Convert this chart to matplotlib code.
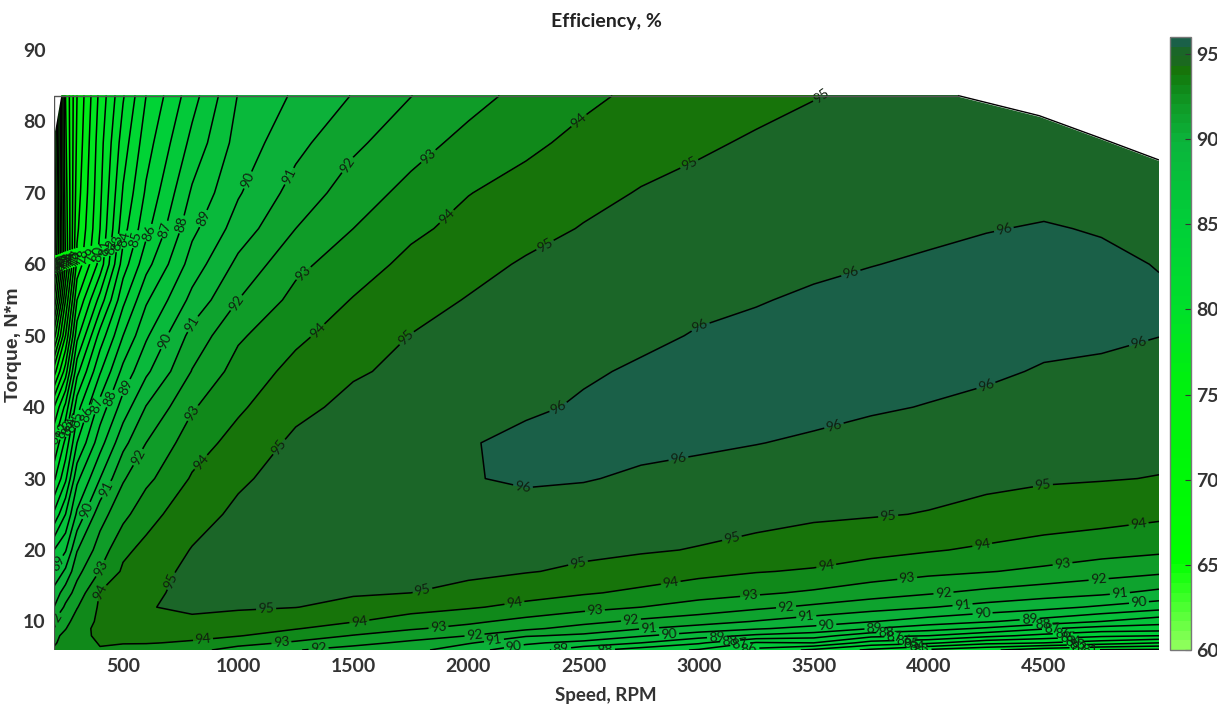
import numpy as np
import matplotlib
matplotlib.use('Agg')
import matplotlib.pyplot as plt
from matplotlib.colors import LinearSegmentedColormap, Normalize
from matplotlib.cm import ScalarMappable

plt.rcParams['font.family'] = ['Lato', 'DejaVu Sans']

speed = [200, 250, 300, 400, 500, 600, 800, 1000, 1250, 1500, 1750, 2000, 2250, 2500, 2750, 3000, 3250, 3500, 3750, 4000, 4250, 4500, 4750, 5000]
torque = [6, 7, 8, 9, 10, 12, 14, 17, 20, 25, 30, 35, 40, 45, 50, 55, 60, 65, 70, 77, 83.6]

# efficiency, one list per speed, same order as torque
eff_200 = [93.1, 92.9, 92.7, 92.4, 92.0, 91.0, 90.4, 89.1, 88.0, 85.2, 82.8, 81.0, 79.0, 75.5, 71.5, 68.0, 65.5, 65.0, 65.0, 64.5, 64.0]
eff_250 = [93.3, 93.3, 93.3, 92.95, 92.7, 92.2, 91.5, 90.2, 88.9, 87.0, 84.8, 83.3, 81.3, 78.5, 76.0, 74.0, 72.0, 72.3, 72.5, 72.8, 73.0]
eff_300 = [93.45, 93.65, 93.75, 93.7, 93.4, 92.95, 92.4, 91.7, 90.95, 89.2, 87.75, 86.0, 84.6, 82.7, 80.7, 79.0, 77.3, 76.8, 76.5, 76.2, 76.0]
eff_400 = [93.95, 94.05, 94.15, 94.2, 94.2, 94.15, 94.05, 93.05, 92.45, 91.6, 90.0, 88.6, 87.4, 85.9, 84.4, 82.4, 80.4, 80.0, 79.8, 79.6, 79.3]
eff_500 = [93.7, 94.05, 94.15, 94.2, 94.3, 94.4, 94.4, 94.15, 93.8, 92.7, 91.9, 90.7, 89.45, 88.3, 87.0, 85.75, 84.5, 83.6, 83.1, 82.5, 81.9]
eff_600 = [93.6, 94.05, 94.3, 94.5, 94.65, 94.97, 94.85, 94.55, 94.25, 93.65, 92.75, 92.0, 91.05, 89.8, 88.85, 87.85, 86.65, 85.7, 85.15, 84.55, 84.0]
eff_800 = [93.3, 93.9, 94.2, 94.6, 94.9, 95.1, 95.2, 95.25, 95.05, 94.6, 94.1, 93.55, 92.9, 92.05, 91.35, 90.3, 89.45, 88.75, 88.15, 87.3, 86.6]
eff_1000 = [92.6, 93.35, 94.05, 94.35, 94.65, 95.1, 95.15, 95.3, 95.35, 95.2, 94.85, 94.35, 93.85, 93.4, 92.85, 92.0, 91.25, 90.45, 89.9, 89.4, 89.05]
eff_1250 = [92.05, 92.85, 93.5, 94.05, 94.3, 95.02, 95.15, 95.3, 95.4, 95.45, 95.4, 95.2, 94.75, 94.3, 93.8, 93.3, 92.75, 92.0, 91.4, 90.7, 90.15]
eff_1500 = [91.6, 92.3, 92.95, 93.55, 94.05, 94.7, 95.1, 95.3, 95.4, 95.5, 95.55, 95.4, 95.25, 94.9, 94.5, 94.05, 93.55, 93.0, 92.5, 91.8, 91.05]
eff_1750 = [91.35, 91.8, 92.45, 93.1, 93.6, 94.35, 95.0, 95.25, 95.45, 95.6, 95.75, 95.65, 95.45, 95.2, 95.02, 94.65, 94.25, 93.8, 93.3, 92.6, 91.98]
eff_2000 = [90.3, 91.1, 92.0, 92.7, 93.2, 94.1, 94.65, 95.25, 95.4, 95.65, 95.95, 95.93, 95.6, 95.45, 95.25, 95.05, 94.7, 94.3, 93.97, 93.3, 92.65]
eff_2250 = [89.5, 90.15, 91.1, 92.2, 92.7, 93.75, 94.35, 95.05, 95.3, 95.65, 96.12, 96.25, 95.85, 95.7, 95.5, 95.3, 95.1, 94.7, 94.35, 93.8, 93.3]
eff_2500 = [88.3, 89.7, 90.8, 91.6, 92.3, 93.3, 94.1, 94.85, 95.18, 95.6, 96.05, 96.3, 96.1, 95.9, 95.65, 95.45, 95.25, 95.05, 94.75, 94.25, 93.8]
eff_2750 = [87.5, 89.0, 90.1, 91.05, 91.8, 93.0, 93.8, 94.55, 95.1, 95.5, 95.88, 96.2, 96.3, 96.1, 95.85, 95.6, 95.4, 95.25, 95.05, 94.65, 94.2]
eff_3000 = [86.9, 88.15, 89.45, 90.55, 91.45, 92.6, 93.4, 94.3, 94.95, 95.38, 95.77, 96.12, 96.3, 96.25, 96.05, 95.85, 95.65, 95.45, 95.2, 94.9, 94.55]
eff_3250 = [85.7, 86.9, 88.8, 90.1, 90.95, 92.2, 93.15, 94.05, 94.75, 95.27, 95.65, 96.02, 96.25, 96.35, 96.2, 95.95, 95.75, 95.55, 95.35, 95.08, 94.8]
eff_3500 = [84.8, 87.0, 88.45, 89.7, 90.5, 91.8, 92.85, 93.9, 94.5, 95.15, 95.5, 95.9, 96.2, 96.3, 96.35, 96.12, 95.85, 95.65, 95.5, 95.25, 94.97]
eff_3750 = [83.8, 85.6, 87.3, 89.0, 90.05, 91.4, 92.45, 93.55, 94.3, 95.07, 95.4, 95.75, 96.08, 96.25, 96.33, 96.25, 95.98, 95.75, 95.6, 95.4, 95.2]
eff_4000 = [82.8, 85.2, 87.0, 88.4, 89.55, 91.05, 92.1, 93.25, 94.08, 94.96, 95.3, 95.65, 95.97, 96.2, 96.3, 96.3, 96.1, 95.85, 95.7, 95.5, 95.35]
eff_4250 = [82.2, 84.3, 86.3, 87.85, 89.1, 90.65, 91.75, 93.05, 93.85, 94.75, 95.2, 95.55, 95.85, 96.1, 96.25, 96.35, 96.2, 95.97, 95.8, 95.6, 95.4]
eff_4500 = [81.4, 84.0, 85.7, 87.1, 88.6, 90.3, 91.45, 92.8, 93.6, 94.55, 95.1, 95.4, 95.65, 95.95, 96.15, 96.25, 96.3, 96.05, 95.8, 95.55, 95.3]
eff_4750 = [80.9, 83.5, 85.2, 86.6, 88.0, 89.85, 91.2, 92.45, 93.4, 94.4, 95.05, 95.3, 95.6, 95.9, 96.1, 96.2, 96.15, 95.95, 95.65, 95.4, 95.0]
eff_5000 = [80.8, 83.0, 85.0, 86.5, 87.4, 89.4, 90.75, 92.2, 93.2, 94.2, 94.97, 95.25, 95.5, 95.75, 96.01, 96.1, 95.97, 95.7, 95.4, 95.1, 94.8]

# edges of the operating area
limit_speed = [4130, 4480, 4743, 5000]
limit_torque = [83.6, 80.8, 77.7, 74.6]
corner_speed = [200, 226]
corner_torque = [78.8, 83.6]

levels = list(range(60, 97))

# where the inline labels sit on each contour
label_spots = {
    96: [(2240, 29.2), (2915, 32.4), (3590, 37.2), (4255, 42.4), (4920, 48.2), (2384, 40.5), (3011, 51), (3659, 59), (4325, 65)],
    95: [(665, 16.2), (1166, 34.7), (1727, 49.8), (2323, 63.2), (2950, 74.6), (3590, 83), (1122, 11.4), (1801, 14.3), (2480, 17.7), (3150, 21), (3825, 24.3), (4503, 27.8)],
    94: [(382, 14.4), (830, 32.5), (1335, 51), (1888, 67.2), (2484, 80), (848, 7.3), (1527, 9.9), (2201, 12.4), (2880, 15.2), (3555, 17.7), (4234, 20.4), (4913, 23.3)],
    93: [(382, 17.7), (795, 39.3), (1279, 58.9), (1818, 75.4), (1188, 7), (1870, 9.2), (2550, 11.4), (3224, 13.5), (3907, 15.8), (4582, 17.8)],
    92: [(204, 10.1), (565, 33), (987, 54.7), (1475, 73.9), (1349, 6.2), (2027, 8), (2706, 10.2), (3380, 12), (4064, 13.9), (4738, 15.8)],
    91: [(422, 28.6), (787, 51.9), (1231, 72.2), (2110, 7.6), (2785, 9), (3468, 10.6), (4147, 12.2), (4830, 13.9)],
    90: [(335, 25.6), (674, 49.4), (1066, 71.5), (2197, 6.6), (2872, 8.2), (3555, 9.5), (4234, 11), (4913, 12.6)],
    89: [(217, 18.1), (509, 42.8), (857, 66.3), (2402, 6.4), (3080, 7.8), (3764, 9), (4438, 10.3)],
    88: [(443, 41.2), (752, 65.6), (2480, 6.1), (3137, 7.3), (3816, 8.5), (4495, 9.4)],
    87: [(382, 40.3), (678, 64.9), (3180, 7), (3850, 8), (4535, 9)],
    86: [(339, 39.1), (613, 64.4), (3220, 6.2), (3894, 7.6), (4582, 8.5)],
    85: [(291, 38.4), (556, 63.5), (3925, 7.2), (4604, 7.9)],
    84: [(261, 37.7), (513, 63.4), (3947, 6.8), (4626, 7.3)],
    83: [(243, 37.2), (470, 63), (3968, 6.2), (4643, 6.9)],
    82: [(226, 36.8), (439, 62.5), (4655, 6.5)],
    81: [(208, 36), (417, 62.3), (4670, 6.2)],
    80: [(388, 61.5)], 79: [(358, 61.3)], 78: [(330, 61.1)], 77: [(300, 61)], 76: [(290, 60.9)],
    75: [(280, 60.8)], 74: [(270, 60.7)], 73: [(260, 60.6)], 72: [(250, 60.5)], 71: [(243, 60.4)],
    70: [(236, 60.3)], 69: [(229, 60.2)], 68: [(222, 60.1)], 67: [(215, 60)], 66: [(208, 60)],
}

eff = np.column_stack([eff_200, eff_250, eff_300, eff_400, eff_500, eff_600, eff_800, eff_1000, eff_1250,
                       eff_1500, eff_1750, eff_2000, eff_2250, eff_2500, eff_2750, eff_3000, eff_3250,
                       eff_3500, eff_3750, eff_4000, eff_4250, eff_4500, eff_4750, eff_5000])

# 64 colour steps, as in the original colour bar
cmap = LinearSegmentedColormap.from_list('eff', [
    (0.0, '#8cff5a'), (5 / 36, '#00ff00'), (16 / 36, '#00f010'), (20 / 36, '#00e02a'),
    (25 / 36, '#00d038'), (30 / 36, '#0bb43c'), (32 / 36, '#0f9c28'), (33 / 36, '#108c1c'),
    (34 / 36, '#137a0c'), (34.5 / 36, '#1a7008'), (35 / 36, '#1b6628'), (35.5 / 36, '#1b6628'), (1.0, '#1a6048'),
], N=64)
norm = Normalize(60, 96, clip=True)

fig = plt.figure(figsize=(12.17, 7.04), dpi=100)
ax = fig.add_axes([54 / 1217, 1 - 650 / 704, 1105 / 1217, 600 / 704])

fill_levels = levels + [97]
band_colors = [cmap(norm(v)) for v in levels]
ax.contourf(speed, torque, eff, levels=fill_levels, colors=band_colors)

# one contour set per level so each label lands on its own line
for lev in levels:
    cs = ax.contour(speed, torque, eff, levels=[lev], colors='black', linewidths=1.1)
    if lev in label_spots:
        ax.clabel(cs, manual=label_spots[lev], inline=True, inline_spacing=2, fontsize=10, fmt='%d', colors='#102010')

# white out the area outside the torque limit
ax.fill_between(limit_speed, limit_torque, 84, color='white', zorder=4)
ax.fill_between(corner_speed, corner_torque, 84, color='white', zorder=4)
ax.plot(limit_speed, limit_torque, color='black', lw=1.0, zorder=5)
ax.plot([200, 200, limit_speed[0]], [6, 83.6, 83.6], color='#555555', lw=1.0, zorder=5)

ax.set_xlim(200, 5000)
ax.set_ylim(6, 90)
ax.set_xticks([500, 1000, 1500, 2000, 2500, 3000, 3500, 4000, 4500])
ax.set_yticks([10, 20, 30, 40, 50, 60, 70, 80, 90])
ax.tick_params(length=0, labelsize=14, labelcolor='#333333', pad=6)
for lab in ax.get_xticklabels() + ax.get_yticklabels():
    lab.set_fontweight('bold')
for s in ax.spines.values():
    s.set_visible(False)

fig.text(606 / 1217, 1 - 22 / 704, 'Efficiency, %', ha='center', va='center', fontsize=14, fontweight='bold', color='#222222')
fig.text(606 / 1217, 1 - 695 / 704, 'Speed, RPM', ha='center', va='center', fontsize=13.5, fontweight='bold', color='#333333')
fig.text(13 / 1217, 1 - 345 / 704, 'Torque, N*m', ha='center', va='center', rotation=90, fontsize=14,
         fontweight='bold', color='#333333', family=['Liberation Sans', 'DejaVu Sans'])

cax = fig.add_axes([1170 / 1217, 1 - 650 / 704, 21 / 1217, 613 / 704])
cb = fig.colorbar(ScalarMappable(norm=norm, cmap=cmap), cax=cax)
cb.set_ticks([60, 65, 70, 75, 80, 85, 90, 95])
cax.tick_params(direction='in', length=4, width=0.8, labelsize=14, labelcolor='#333333', pad=4, color='#333333')
for lab in cax.get_yticklabels():
    lab.set_fontweight('bold')
cb.outline.set_edgecolor('#777777')
cb.outline.set_linewidth(1.0)

fig.savefig('out.png', dpi=100)
